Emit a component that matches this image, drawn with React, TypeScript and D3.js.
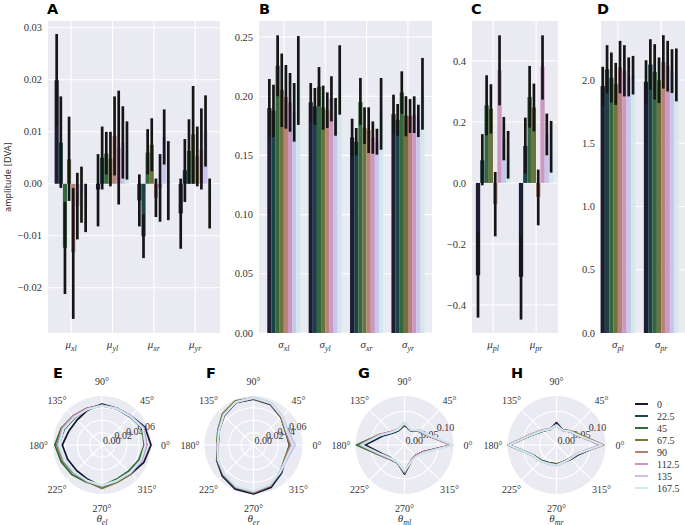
import React from 'react';
import * as d3 from 'd3';

// ---------- shared ----------
const hueLabels = ['0', '22.5', '45', '67.5', '90', '112.5', '135', '167.5'];
const hueColors = ['#1a1935', '#15474e', '#2b6f39', '#767b33', '#c17a6f', '#d490c6', '#c3c0f2', '#ceebef'];

// ---------- panel A (μ, left/right eye) ----------
const catsA = [{ s: 'μ', sub: 'xl' }, { s: 'μ', sub: 'yl' }, { s: 'μ', sub: 'xr' }, { s: 'μ', sub: 'yr' }];
const meanA = [
  [0.0199, 0.0079, -0.0123, 0.0047, -0.0132, -0.0043, -0.0021, -0.0046],
  [-0.0011, 0.0050, 0.0058, 0.0048, 0.0092, 0.0069, 0.0079, 0.0064],
  [-0.0032, -0.0101, 0.0060, 0.0075, -0.0027, -0.0008, 0.0090, 0.0006],
  [-0.0057, 0.0026, 0.0063, 0.0095, 0.0053, 0.0066, 0.0102, -0.0038],
];
const hiA = [
  [0.0288, 0.0168, -0.0035, 0.0129, -0.0008, 0.0021, 0.0033, 0.0000],
  [0.0057, 0.0110, 0.0100, 0.0100, 0.0168, 0.0179, 0.0149, 0.0120],
  [0.0018, -0.0059, 0.0105, 0.0126, 0.0010, 0.0057, 0.0143, 0.0082],
  [0.0010, 0.0086, 0.0124, 0.0188, 0.0110, 0.0145, 0.0170, 0.0010],
];
const loA = [
  [0.0111, -0.0008, -0.0212, -0.0033, -0.0260, -0.0107, -0.0075, -0.0093],
  [-0.0082, -0.0011, 0.0018, -0.0005, 0.0016, -0.0040, 0.0010, 0.0008],
  [-0.0082, -0.0143, 0.0018, 0.0024, -0.0064, -0.0073, 0.0037, -0.0070],
  [-0.0125, -0.0035, 0.0000, 0.0000, -0.0005, -0.0011, 0.0033, -0.0086],
];
const ticksA = [-0.02, -0.01, 0.0, 0.01, 0.02, 0.03];

// ---------- panel B (σ) ----------
const catsB = [{ s: 'σ', sub: 'xl' }, { s: 'σ', sub: 'yl' }, { s: 'σ', sub: 'xr' }, { s: 'σ', sub: 'yr' }];
const meanB = [
  [0.190, 0.1877, 0.2257, 0.2053, 0.1994, 0.1948, 0.1864, 0.2133],
  [0.1948, 0.1914, 0.2079, 0.1905, 0.1884, 0.1978, 0.1826, 0.2137],
  [0.1651, 0.1615, 0.1950, 0.1733, 0.1713, 0.1651, 0.1615, 0.1851],
  [0.1848, 0.1800, 0.2031, 0.1835, 0.1833, 0.1844, 0.1792, 0.2020],
];
const hiB = [
  [0.2145, 0.2097, 0.2514, 0.2360, 0.2263, 0.2196, 0.2111, 0.2508],
  [0.2111, 0.2069, 0.2246, 0.2089, 0.2032, 0.2168, 0.1985, 0.2430],
  [0.1810, 0.1731, 0.2154, 0.1906, 0.1906, 0.1787, 0.1725, 0.2154],
  [0.2013, 0.1934, 0.2210, 0.2000, 0.1976, 0.1999, 0.1928, 0.2323],
];
const loB = [
  [0.1655, 0.1655, 0.1999, 0.1740, 0.1725, 0.1700, 0.1616, 0.1757],
  [0.1787, 0.1759, 0.1914, 0.1717, 0.1731, 0.1787, 0.1666, 0.1844],
  [0.1492, 0.1500, 0.1759, 0.1596, 0.1520, 0.1514, 0.1506, 0.1548],
  [0.1683, 0.1666, 0.1852, 0.1661, 0.1689, 0.1689, 0.1655, 0.1717],
];
const ticksB = [0.0, 0.05, 0.10, 0.15, 0.20, 0.25];

// ---------- panel C (μ pupil) ----------
const catsC = [{ s: 'μ', sub: 'pl' }, { s: 'μ', sub: 'pr' }];
const meanC = [
  [-0.3027, 0.0743, 0.2546, 0.2437, -0.0700, 0.3694, 0.1454, 0.0920],
  [-0.3080, 0.1213, 0.2820, 0.2470, -0.0459, 0.3803, 0.1596, 0.1186],
];
const hiC = [
  [-0.1607, 0.1600, 0.3530, 0.3235, 0.0360, 0.4840, 0.2164, 0.1705],
  [-0.1716, 0.2142, 0.3836, 0.3257, 0.0437, 0.4840, 0.2273, 0.2033],
];
const loC = [
  [-0.4415, -0.0077, 0.1560, 0.1620, -0.1750, 0.2546, 0.0743, 0.0142],
  [-0.4480, 0.0306, 0.1814, 0.1694, -0.1388, 0.2732, 0.0907, 0.0339],
];
const ticksC = [-0.4, -0.2, 0.0, 0.2, 0.4];

// ---------- panel D (σ pupil) ----------
const catsD = [{ s: 'σ', sub: 'pl' }, { s: 'σ', sub: 'pr' }];
const meanD = [
  [1.951, 2.083, 2.017, 1.967, 2.100, 2.070, 2.025, 2.035],
  [1.985, 2.122, 2.064, 1.998, 2.143, 2.109, 2.070, 2.040],
];
const hiD = [
  [2.104, 2.275, 2.217, 2.135, 2.309, 2.275, 2.178, 2.190],
  [2.156, 2.322, 2.283, 2.178, 2.354, 2.309, 2.243, 2.249],
];
const loD = [
  [1.795, 1.895, 1.821, 1.803, 1.895, 1.870, 1.870, 1.885],
  [1.814, 1.922, 1.845, 1.818, 1.932, 1.909, 1.897, 1.831],
];
const ticksD = [0.0, 0.5, 1.0, 1.5, 2.0];

// ---------- polar panels ----------
const polarAngles = [0, 22.5, 45, 67.5, 90, 112.5, 135, 157.5, 180, 202.5, 225, 247.5, 270, 292.5, 315, 337.5];
const angleTicks = [0, 45, 90, 135, 180, 225, 270, 315];

const polarE = [
  [0.079, 0.075, 0.066, 0.064, 0.066, 0.061, 0.057, 0.058, 0.064, 0.060, 0.058, 0.060, 0.067, 0.064, 0.066, 0.073],
  [0.072, 0.071, 0.064, 0.063, 0.065, 0.063, 0.062, 0.066, 0.070, 0.066, 0.063, 0.063, 0.067, 0.062, 0.063, 0.068],
  [0.068, 0.070, 0.065, 0.063, 0.064, 0.064, 0.066, 0.071, 0.076, 0.071, 0.068, 0.065, 0.066, 0.060, 0.060, 0.064],
  [0.069, 0.071, 0.066, 0.064, 0.063, 0.063, 0.065, 0.069, 0.073, 0.068, 0.064, 0.064, 0.070, 0.065, 0.066, 0.067],
  [0.071, 0.072, 0.065, 0.063, 0.064, 0.064, 0.066, 0.070, 0.072, 0.067, 0.064, 0.063, 0.066, 0.062, 0.063, 0.068],
  [0.072, 0.073, 0.066, 0.064, 0.063, 0.063, 0.065, 0.069, 0.071, 0.066, 0.063, 0.063, 0.066, 0.063, 0.064, 0.069],
  [0.070, 0.072, 0.066, 0.064, 0.064, 0.062, 0.064, 0.068, 0.070, 0.066, 0.063, 0.063, 0.066, 0.063, 0.064, 0.068],
  [0.070, 0.071, 0.065, 0.063, 0.063, 0.062, 0.063, 0.067, 0.069, 0.065, 0.062, 0.062, 0.065, 0.062, 0.063, 0.067],
];
const polarF = [
  [0.058, 0.056, 0.063, 0.071, 0.074, 0.074, 0.067, 0.060, 0.058, 0.064, 0.071, 0.077, 0.079, 0.074, 0.064, 0.056],
  [0.059, 0.057, 0.063, 0.072, 0.075, 0.075, 0.068, 0.060, 0.057, 0.064, 0.070, 0.075, 0.077, 0.072, 0.062, 0.055],
  [0.060, 0.057, 0.064, 0.072, 0.075, 0.076, 0.070, 0.062, 0.059, 0.063, 0.068, 0.074, 0.076, 0.071, 0.061, 0.056],
  [0.059, 0.056, 0.063, 0.073, 0.076, 0.077, 0.071, 0.062, 0.059, 0.062, 0.068, 0.074, 0.077, 0.071, 0.061, 0.055],
  [0.060, 0.057, 0.064, 0.072, 0.075, 0.075, 0.069, 0.061, 0.058, 0.063, 0.068, 0.074, 0.076, 0.071, 0.061, 0.056],
  [0.062, 0.058, 0.065, 0.073, 0.076, 0.075, 0.069, 0.061, 0.058, 0.062, 0.067, 0.073, 0.075, 0.070, 0.061, 0.057],
  [0.067, 0.060, 0.066, 0.074, 0.077, 0.075, 0.068, 0.060, 0.058, 0.062, 0.067, 0.073, 0.075, 0.070, 0.062, 0.059],
  [0.063, 0.058, 0.065, 0.073, 0.076, 0.075, 0.068, 0.060, 0.058, 0.062, 0.067, 0.072, 0.074, 0.069, 0.061, 0.057],
];
const polarG = [
  [0.138, 0.074, 0.058, 0.046, 0.058, 0.046, 0.050, 0.070, 0.116, 0.070, 0.055, 0.055, 0.086, 0.052, 0.045, 0.056],
  [0.140, 0.076, 0.062, 0.047, 0.060, 0.047, 0.052, 0.074, 0.125, 0.073, 0.057, 0.056, 0.083, 0.051, 0.045, 0.057],
  [0.141, 0.077, 0.062, 0.048, 0.061, 0.049, 0.055, 0.080, 0.142, 0.079, 0.060, 0.057, 0.082, 0.051, 0.046, 0.058],
  [0.139, 0.077, 0.061, 0.047, 0.062, 0.048, 0.054, 0.078, 0.134, 0.077, 0.059, 0.056, 0.082, 0.052, 0.046, 0.058],
  [0.138, 0.075, 0.061, 0.049, 0.063, 0.050, 0.056, 0.080, 0.132, 0.076, 0.058, 0.056, 0.080, 0.050, 0.045, 0.057],
  [0.140, 0.074, 0.060, 0.048, 0.064, 0.050, 0.055, 0.079, 0.130, 0.075, 0.057, 0.055, 0.079, 0.050, 0.046, 0.058],
  [0.143, 0.076, 0.060, 0.048, 0.066, 0.050, 0.054, 0.077, 0.128, 0.074, 0.057, 0.055, 0.078, 0.052, 0.048, 0.060],
  [0.145, 0.078, 0.062, 0.049, 0.065, 0.049, 0.053, 0.076, 0.127, 0.073, 0.056, 0.054, 0.077, 0.053, 0.049, 0.061],
];
const polarH = [
  [0.130, 0.072, 0.056, 0.048, 0.066, 0.050, 0.058, 0.078, 0.140, 0.076, 0.064, 0.057, 0.056, 0.055, 0.060, 0.072],
  [0.132, 0.073, 0.056, 0.047, 0.060, 0.050, 0.058, 0.079, 0.141, 0.077, 0.065, 0.058, 0.057, 0.054, 0.059, 0.070],
  [0.134, 0.075, 0.058, 0.048, 0.057, 0.051, 0.060, 0.081, 0.143, 0.078, 0.066, 0.058, 0.058, 0.053, 0.057, 0.069],
  [0.138, 0.078, 0.059, 0.048, 0.057, 0.050, 0.059, 0.080, 0.142, 0.077, 0.066, 0.059, 0.058, 0.053, 0.056, 0.068],
  [0.140, 0.074, 0.057, 0.047, 0.060, 0.052, 0.062, 0.082, 0.142, 0.078, 0.067, 0.060, 0.059, 0.054, 0.056, 0.068],
  [0.128, 0.071, 0.056, 0.047, 0.060, 0.052, 0.061, 0.081, 0.141, 0.077, 0.067, 0.060, 0.060, 0.055, 0.057, 0.066],
  [0.133, 0.072, 0.056, 0.047, 0.058, 0.051, 0.060, 0.080, 0.140, 0.078, 0.068, 0.061, 0.061, 0.056, 0.058, 0.067],
  [0.136, 0.073, 0.057, 0.047, 0.058, 0.050, 0.059, 0.079, 0.141, 0.078, 0.067, 0.060, 0.060, 0.055, 0.057, 0.067],
];
const rTicksEF = [0.0, 0.02, 0.04, 0.06];
const rTicksGH = [0.0, 0.05, 0.10];

// ---------- style ----------
const BG = '#EAEAF2';
const SERIF = '"Liberation Serif", "DejaVu Serif", serif';
const SANS = '"DejaVu Sans", "Liberation Sans", sans-serif';
const TICK = '#333333';

function desat(c: string, p: number) {
  const h = d3.hsl(c);
  h.s *= p;
  return h.formatHex();
}
const barColors = hueColors.map((c) => desat(c, 0.75));

type Cat = { s: string; sub: string };
type BarCfg = {
  left: number; right: number; top: number; bottom: number;
  xDomain: [number, number]; yDomain: [number, number];
  ticks: number[]; fmt: string; cats: Cat[];
  mean: number[][]; hi: number[][]; lo: number[][];
  letter: string; letterX: number;
};

function CatLabel({ x, y, c }: { x: number; y: number; c: Cat }) {
  return (
    <text x={x} y={y} textAnchor="middle" fontFamily={SERIF} fill={TICK} fontStyle="italic">
      <tspan fontSize={11}>{c.s}</tspan>
      <tspan fontSize={8} dy={2.5}>{c.sub}</tspan>
    </text>
  );
}

function BarPanel({ p }: { p: BarCfg }) {
  const x = d3.scaleLinear().domain(p.xDomain).range([p.left, p.right]);
  const y = d3.scaleLinear().domain(p.yDomain).range([p.bottom, p.top]);
  const f = d3.format(p.fmt);
  const nh = hueColors.length;
  const bw = 0.8 / nh;
  return (
    <g>
      <rect x={p.left} y={p.top} width={p.right - p.left} height={p.bottom - p.top} fill={BG} />
      {p.ticks.map((t) => (
        <line key={'h' + t} x1={p.left} x2={p.right} y1={y(t)} y2={y(t)} stroke="#fff" strokeWidth={1.1} />
      ))}
      {p.cats.map((c, i) => (
        <line key={'v' + i} x1={x(i)} x2={x(i)} y1={p.top} y2={p.bottom} stroke="#fff" strokeWidth={1.1} />
      ))}
      {p.mean.map((row, g) =>
        row.map((v, h) => {
          const x0 = x(g - 0.4 + h * bw);
          const x1 = x(g - 0.4 + (h + 1) * bw);
          const yTop = Math.min(y(v), y(0));
          return (
            <rect key={`b${g}-${h}`} x={x0} width={x1 - x0} y={yTop} height={Math.abs(y(v) - y(0))} fill={barColors[h]} />
          );
        })
      )}
      {p.mean.map((row, g) =>
        row.map((v, h) => {
          const xc = x(g - 0.4 + (h + 0.5) * bw);
          return (
            <line key={`e${g}-${h}`} x1={xc} x2={xc} y1={y(p.lo[g][h])} y2={y(p.hi[g][h])} stroke="#151515" strokeWidth={2.7} />
          );
        })
      )}
      {p.ticks.map((t) => (
        <text key={'t' + t} x={p.left - 6} y={y(t)} dy="0.35em" textAnchor="end" fontFamily={SERIF} fontSize={10.5} fill={TICK}>
          {f(t)}
        </text>
      ))}
      {p.cats.map((c, i) => (
        <CatLabel key={'c' + i} x={x(i)} y={348} c={c} />
      ))}
      <text x={p.letterX} y={13.5} fontFamily={SANS} fontWeight="bold" fontSize={14.5} fill="#000">
        {p.letter}
      </text>
    </g>
  );
}

type PolarCfg = {
  cx: number; cy: number; R: number; rMax: number; rTicks: number[];
  fmt: string; series: number[][]; letter: string; letterX: number; sub: string;
};

function PolarPanel({ p }: { p: PolarCfg }) {
  const r = d3.scaleLinear().domain([0, p.rMax]).range([0, p.R]);
  const f = d3.format(p.fmt);
  const toRad = (deg: number) => ((90 - deg) * Math.PI) / 180;
  const line = d3
    .lineRadial<number>()
    .angle((_, i) => toRad(polarAngles[i]))
    .radius((d) => r(d))
    .curve(d3.curveLinearClosed);
  const px = (deg: number, rad: number) => p.cx + rad * Math.cos((deg * Math.PI) / 180);
  const py = (deg: number, rad: number) => p.cy - rad * Math.sin((deg * Math.PI) / 180);
  return (
    <g>
      <circle cx={p.cx} cy={p.cy} r={p.R} fill={BG} />
      {p.rTicks.filter((t) => t > 0).map((t) => (
        <circle key={'r' + t} cx={p.cx} cy={p.cy} r={r(t)} fill="none" stroke="#fff" strokeWidth={1.1} />
      ))}
      {angleTicks.map((a) => (
        <line key={'a' + a} x1={p.cx} y1={p.cy} x2={px(a, p.R)} y2={py(a, p.R)} stroke="#fff" strokeWidth={1.1} />
      ))}
      {p.rTicks.map((t) => (
        <text key={'rl' + t} x={px(22.5, r(t)) + 1} y={py(22.5, r(t)) - 1} fontFamily={SERIF} fontSize={10} fill={TICK}>
          {f(t)}
        </text>
      ))}
      {p.series.map((s, k) => (
        <path key={'s' + k} d={line(s) || ''} transform={`translate(${p.cx},${p.cy})`} fill="none" stroke={hueColors[k]} strokeWidth={1.8} strokeLinejoin="round" />
      ))}
      {angleTicks.map((a) => (
        <text key={'al' + a} x={px(a, p.R + 14.5)} y={py(a, p.R + 14.5)} dy="0.35em" textAnchor="middle" fontFamily={SERIF} fontSize={10} fill={TICK}>
          {a + '°'}
        </text>
      ))}
      <text x={p.cx} y={p.cy + p.R + 28} textAnchor="middle" fontFamily={SERIF} fill={TICK} fontStyle="italic">
        <tspan fontSize={11}>θ</tspan>
        <tspan fontSize={8} dy={2.5}>{p.sub}</tspan>
      </text>
      <text x={p.letterX} y={378} fontFamily={SANS} fontWeight="bold" fontSize={14.5} fill="#000">
        {p.letter}
      </text>
    </g>
  );
}

const barPanels: BarCfg[] = [
  { left: 48, right: 220, top: 21, bottom: 333, xDomain: [-0.56, 3.6], yDomain: [-0.0287, 0.0313], ticks: ticksA, fmt: '.2f', cats: catsA, mean: meanA, hi: hiA, lo: loA, letter: 'A', letterX: 47 },
  { left: 259, right: 432, top: 21, bottom: 333, xDomain: [-0.6, 3.58], yDomain: [0, 0.2635], ticks: ticksB, fmt: '.2f', cats: catsB, mean: meanB, hi: hiB, lo: loB, letter: 'B', letterX: 259 },
  { left: 472, right: 558, top: 21, bottom: 333, xDomain: [-0.49, 1.51], yDomain: [-0.492, 0.531], ticks: ticksC, fmt: '.1f', cats: catsC, mean: meanC, hi: hiC, lo: loC, letter: 'C', letterX: 471 },
  { left: 601, right: 685, top: 21, bottom: 333, xDomain: [-0.39, 1.55], yDomain: [0, 2.466], ticks: ticksD, fmt: '.1f', cats: catsD, mean: meanD, hi: hiD, lo: loD, letter: 'D', letterX: 597 },
];

const polarPanels: PolarCfg[] = [
  { cx: 102, cy: 445, R: 49, rMax: 0.079, rTicks: rTicksEF, fmt: '.2f', series: polarE, letter: 'E', letterX: 53, sub: 'el' },
  { cx: 253.5, cy: 445, R: 49, rMax: 0.079, rTicks: rTicksEF, fmt: '.2f', series: polarF, letter: 'F', letterX: 206, sub: 'er' },
  { cx: 404.5, cy: 445, R: 49, rMax: 0.145, rTicks: rTicksGH, fmt: '.2f', series: polarG, letter: 'G', letterX: 358, sub: 'ml' },
  { cx: 556.5, cy: 445, R: 49, rMax: 0.145, rTicks: rTicksGH, fmt: '.2f', series: polarH, letter: 'H', letterX: 511, sub: 'mr' },
];

export default function App() {
  return (
    <svg width={685} height={525} style={{ position: 'absolute', left: 0, top: 0, background: '#fff' }}>
      {barPanels.map((p) => (
        <BarPanel key={p.letter} p={p} />
      ))}
      <text transform="translate(11,177) rotate(-90)" textAnchor="middle" fontFamily={SANS} fontSize={8.5} fill={TICK}>
        amplitude [DVA]
      </text>
      {polarPanels.map((p) => (
        <PolarPanel key={p.letter} p={p} />
      ))}
      <g>
        {hueLabels.map((l, i) => (
          <g key={l}>
            <line x1={635} x2={648} y1={404 + i * 12} y2={404 + i * 12} stroke={hueColors[i]} strokeWidth={2} />
            <text x={657} y={404 + i * 12} dy="0.35em" fontFamily={SERIF} fontSize={10} fill={TICK}>
              {l}
            </text>
          </g>
        ))}
      </g>
    </svg>
  );
}
